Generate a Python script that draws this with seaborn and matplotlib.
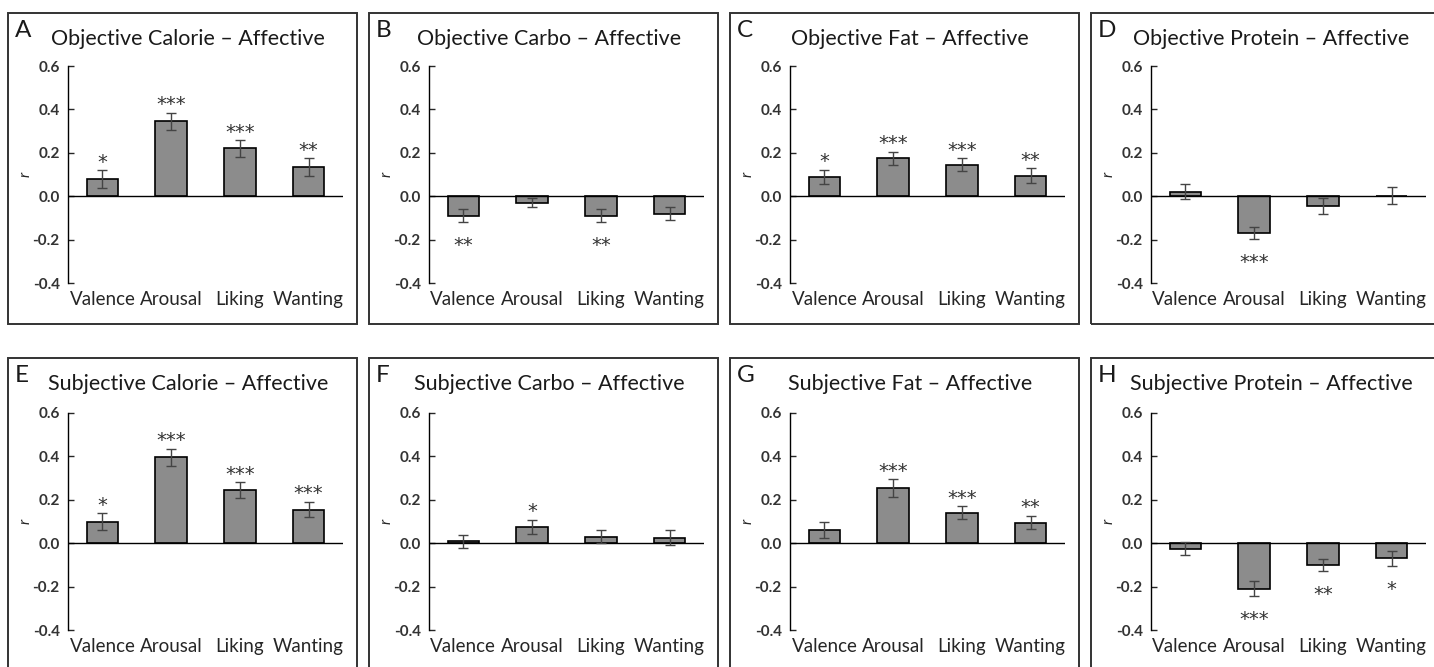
import matplotlib

matplotlib.use("Agg")

import matplotlib.pyplot as plt
import pandas as pd
import seaborn as sns
from matplotlib.patches import Rectangle

categories = ["Valence", "Arousal", "Liking", "Wanting"]
panel_letters = ["A", "B", "C", "D", "E", "F", "G", "H"]
panel_titles = [
    "Objective Calorie \u2013 Affective",
    "Objective Carbo \u2013 Affective",
    "Objective Fat \u2013 Affective",
    "Objective Protein \u2013 Affective",
    "Subjective Calorie \u2013 Affective",
    "Subjective Carbo \u2013 Affective",
    "Subjective Fat \u2013 Affective",
    "Subjective Protein \u2013 Affective",
]

# correlation r, standard error, significance stars per panel
r_obj_calorie = [0.08, 0.345, 0.22, 0.135]
err_obj_calorie = [0.04, 0.038, 0.038, 0.04]
sig_obj_calorie = ["*", "***", "***", "**"]

r_obj_carbo = [-0.09, -0.03, -0.09, -0.08]
err_obj_carbo = [0.03, 0.02, 0.03, 0.03]
sig_obj_carbo = ["**", "", "**", ""]

r_obj_fat = [0.09, 0.175, 0.145, 0.095]
err_obj_fat = [0.033, 0.03, 0.03, 0.033]
sig_obj_fat = ["*", "***", "***", "**"]

r_obj_protein = [0.02, -0.17, -0.045, 0.003]
err_obj_protein = [0.035, 0.028, 0.035, 0.038]
sig_obj_protein = ["", "***", "", ""]

r_subj_calorie = [0.10, 0.395, 0.245, 0.155]
err_subj_calorie = [0.038, 0.04, 0.035, 0.035]
sig_subj_calorie = ["*", "***", "***", "***"]

r_subj_carbo = [0.01, 0.075, 0.03, 0.025]
err_subj_carbo = [0.03, 0.033, 0.03, 0.035]
sig_subj_carbo = ["", "*", "", ""]

r_subj_fat = [0.06, 0.255, 0.14, 0.095]
err_subj_fat = [0.038, 0.04, 0.03, 0.03]
sig_subj_fat = ["", "***", "***", "**"]

r_subj_protein = [-0.025, -0.21, -0.10, -0.07]
err_subj_protein = [0.03, 0.035, 0.028, 0.035]
sig_subj_protein = ["", "***", "**", "*"]

panel_values = [r_obj_calorie, r_obj_carbo, r_obj_fat, r_obj_protein,
                r_subj_calorie, r_subj_carbo, r_subj_fat, r_subj_protein]
panel_errors = [err_obj_calorie, err_obj_carbo, err_obj_fat, err_obj_protein,
                err_subj_calorie, err_subj_carbo, err_subj_fat, err_subj_protein]
panel_sigs = [sig_obj_calorie, sig_obj_carbo, sig_obj_fat, sig_obj_protein,
              sig_subj_calorie, sig_subj_carbo, sig_subj_fat, sig_subj_protein]
y_ticks = [-0.4, -0.2, 0.0, 0.2, 0.4, 0.6]

sns.set_theme(style="white")
plt.rcParams["font.family"] = ["Lato", "DejaVu Sans"]
plt.rcParams["text.color"] = "#1a1a1a"

W, H = 1434, 667
fig = plt.figure(figsize=(W / 100, H / 100), dpi=100)

panel_left = [8, 369, 730, 1091]
panel_top = [13, 358]
panel_w, panel_h = 349, 311
ax_w, ax_h = 275, 217

for idx in range(8):
    row, col = divmod(idx, 4)
    px, py = panel_left[col], panel_top[row]

    fig.patches.append(Rectangle((px / W, 1 - (py + panel_h) / H), panel_w / W, panel_h / H,
                                 transform=fig.transFigure, fill=False,
                                 edgecolor="#333333", linewidth=1.4))
    fig.text((px + 7) / W, 1 - (py + 7) / H, panel_letters[idx], fontsize=17.5,
             ha="left", va="top")
    fig.text((px + 180) / W, 1 - (py + 26) / H, panel_titles[idx], fontsize=15.5,
             ha="center", va="center")

    ax_top = py + 53 if row == 0 else py + 55
    ax = fig.add_axes([(px + 60) / W, 1 - (ax_top + ax_h) / H, ax_w / W, ax_h / H])
    df = pd.DataFrame({"category": categories, "r": panel_values[idx]})
    sns.barplot(data=df, x="category", y="r", order=categories, color="#8c8c8c",
                saturation=1, width=0.46, edgecolor="black", linewidth=1.2,
                errorbar=None, ax=ax)
    ax.errorbar(range(len(categories)), panel_values[idx], yerr=panel_errors[idx],
                fmt="none", ecolor="#444444", elinewidth=1.0, capsize=3.5, capthick=1.0)
    for i, (v, e, s) in enumerate(zip(panel_values[idx], panel_errors[idx], panel_sigs[idx])):
        if not s:
            continue
        base = v + e + 0.012 if v >= 0 else v - e - 0.133
        ax.text(i, base, s, ha="center", va="baseline", fontsize=14,
                family="DejaVu Sans", color="#333333")

    ax.axhline(0, color="black", linewidth=1.0, zorder=1)
    ax.set_xlim(-0.5, 3.5)
    ax.set_ylim(-0.4, 0.6)
    ax.set_yticks(y_ticks)
    ax.set_yticklabels([f"{t:.1f}" for t in y_ticks], fontsize=11, fontweight="bold",
                       color="#333333")
    ax.tick_params(axis="y", direction="in", length=4, width=1, pad=6, left=True)
    ax.tick_params(axis="x", length=0, pad=6, labelsize=13.5)
    ax.set_xlabel("")
    ax.set_ylabel("r", fontstyle="italic", fontsize=11, labelpad=0)
    for side in ["top", "right", "bottom"]:
        ax.spines[side].set_visible(False)
    ax.spines["left"].set_color("black")
    ax.spines["left"].set_linewidth(1.0)
    ax.set_facecolor("none")

fig.savefig("out.png", dpi=100)
